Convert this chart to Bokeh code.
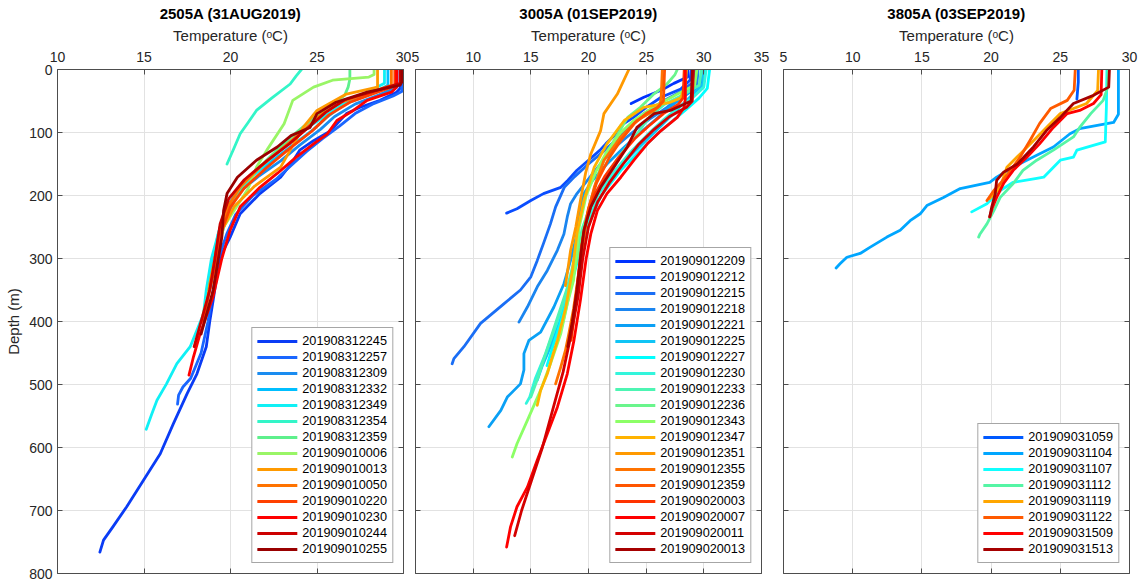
from bokeh.plotting import figure
from bokeh.models import Range1d, LinearAxis, FixedTicker, Legend, LegendItem
from bokeh.layouts import row
from bokeh.embed import file_html
from bokeh.resources import INLINE

# ---------------- data ----------------
# Panel 1: 2505A (31AUG2019)
P1_TITLE = "2505A (31AUG2019)"
P1_XTICKS = [10, 15, 20, 25, 30]
P1_LABELS = ["201908312245", "201908312257", "201908312309", "201908312332", "201908312349",
             "201908312354", "201908312359", "201909010006", "201909010013", "201909010050",
             "201909010220", "201909010230", "201909010244", "201909010255"]
P1_COLORS = ["#0a3cf5", "#1a66ff", "#1a8cf0", "#00bfff", "#10f0f5", "#33f5c8", "#5ef08c",
             "#99f566", "#ff9a00", "#ff7300", "#ff4000", "#ff0000", "#cc0000", "#990000"]
P1_DEPTH = [
    [0, 30, 36, 49, 60, 70, 97, 113, 128, 150, 171, 197, 229, 266, 298, 330, 366, 400, 440, 483, 514, 562, 610, 652, 694, 726, 747, 766],
    [0, 35, 42, 55, 70, 90, 110, 130, 150, 175, 200, 230, 260, 300, 350, 400, 450, 490, 504, 517, 531],
    [0, 28, 40, 55, 75, 95, 120, 145, 170, 195, 225, 260, 300],
    [0, 25, 38, 55, 75, 95, 120, 145, 170, 195, 225, 260, 300, 350],
    [0, 22, 35, 55, 75, 97, 120, 150, 180, 210, 250, 300, 350, 388, 440, 467, 499, 525, 546, 571],
    [0, 10, 23, 45, 65, 85, 102, 125, 150],
    [0, 15, 28, 41, 55, 75, 100, 130, 160, 190, 220, 260, 300, 330],
    [0, 8, 12, 17, 28, 49, 86, 128, 155, 190, 250, 300, 350, 390],
    [0, 28, 39, 65, 92, 128, 155, 185, 218, 261, 300, 340, 380],
    [0, 25, 37, 52, 70, 95, 125, 155, 185, 215, 250, 300],
    [0, 26, 38, 52, 72, 98, 128, 158, 188, 218, 255, 300, 350, 400],
    [0, 28, 36, 49, 65, 81, 102, 118, 139, 165, 187, 218, 255, 300, 360, 419, 456, 485],
    [0, 22, 32, 48, 68, 92, 118, 145, 175, 205, 245, 300, 350, 400, 440],
    [0, 20, 25, 36, 52, 70, 92, 105, 123, 144, 171, 197, 224, 266, 300, 350, 400, 420],
]
P1_TEMP = [
    [29.8, 29.8, 29.6, 28.65, 27.5, 26.7, 25.8, 24.8, 24.0, 23.5, 22.9, 21.7, 20.56, 19.98, 19.4, 19.2, 19.0, 18.8, 18.6, 18.06, 17.5, 16.7, 15.94, 14.97, 14.0, 13.2, 12.66, 12.45],
    [29.9, 29.9, 29.4, 28.2, 27.2, 26.3, 25.3, 24.4, 23.6, 22.6, 21.3, 20.3, 19.8, 19.3, 19.0, 18.7, 18.3, 17.7, 17.25, 17.0, 16.94],
    [29.6, 29.6, 28.6, 27.2, 26.0, 25.2, 24.0, 22.9, 21.6, 20.5, 19.9, 19.5, 19.2],
    [29.1, 29.1, 28.2, 26.6, 25.6, 24.8, 23.6, 22.4, 21.2, 20.3, 19.7, 19.3, 19.0, 18.7],
    [28.9, 28.9, 28.0, 26.5, 25.4, 24.2, 23.2, 22.0, 20.9, 20.1, 19.4, 18.9, 18.6, 18.44, 17.67, 16.9, 16.3, 15.75, 15.46, 15.13],
    [24.1, 23.8, 23.45, 22.4, 21.5, 21.0, 20.56, 20.2, 19.8],
    [26.9, 26.9, 26.8, 26.6, 25.9, 24.9, 23.8, 22.6, 21.5, 20.5, 19.9, 19.4, 19.1, 18.9],
    [28.3, 28.3, 28.0, 25.9, 24.8, 23.6, 23.1, 22.1, 21.5, 21.0, 19.6, 19.2, 18.8, 18.4],
    [28.5, 28.5, 26.7, 25.0, 24.2, 23.45, 22.9, 21.4, 20.2, 19.4, 19.1, 18.8, 18.6],
    [29.3, 29.3, 28.0, 26.4, 25.3, 24.3, 23.0, 21.7, 20.6, 19.9, 19.4, 19.1],
    [29.5, 29.5, 28.3, 26.9, 25.7, 24.7, 23.3, 22.0, 20.8, 20.0, 19.5, 19.2, 18.8, 18.4],
    [29.6, 29.6, 29.3, 27.9, 27.1, 26.15, 25.6, 24.8, 23.8, 22.7, 21.7, 20.56, 19.98, 19.5, 19.0, 18.25, 17.86, 17.6],
    [29.8, 29.8, 28.6, 26.6, 25.5, 24.5, 23.4, 22.1, 20.8, 19.9, 19.4, 19.1, 18.8, 18.3, 17.9],
    [29.9, 29.9, 29.8, 27.9, 26.1, 25.0, 24.6, 23.5, 22.7, 21.5, 20.4, 19.8, 19.6, 19.5, 19.3, 19.0, 18.5, 18.3],
]

# Panel 2: 3005A (01SEP2019)
P2_TITLE = "3005A (01SEP2019)"
P2_XTICKS = [5, 10, 15, 20, 25, 30, 35]
P2_LABELS = ["201909012209", "201909012212", "201909012215", "201909012218", "201909012221",
             "201909012225", "201909012227", "201909012230", "201909012233", "201909012236",
             "201909012343", "201909012347", "201909012351", "201909012355", "201909012359",
             "201909020003", "201909020007", "201909020011", "201909020013"]
P2_COLORS = ["#0033ff", "#0a4dff", "#1a6ef5", "#1a85f0", "#0aa0f5", "#10c4f5", "#00ffff",
             "#33f5dc", "#4df5b3", "#6af58c", "#8cff66", "#ffb300", "#ff9900", "#ff7300",
             "#ff5500", "#ff3300", "#ff0000", "#d40000", "#a60000"]
P2_DEPTH = [
    [0, 12, 22, 33, 44, 54],
    [0, 17, 31, 44, 60, 76, 89, 102, 118, 128, 144, 160, 176, 187, 197, 208, 221, 228],
    [0, 20, 35, 50, 70, 90, 110, 130, 150, 170, 187, 218, 245, 276, 303, 329, 350, 372, 403, 440, 459, 467],
    [0, 25, 40, 60, 80, 100, 120, 144, 176, 197, 213, 234, 261, 287, 319, 345, 377, 401],
    [0, 25, 40, 60, 80, 100, 125, 150, 175, 197, 224, 261, 303, 340, 377, 417, 430, 451, 477, 499, 520, 541, 567],
    [0, 25, 40, 60, 80, 100, 130, 160, 200, 250, 300, 350, 400, 440, 470, 493],
    [0, 30, 45, 60, 80, 100, 130, 160, 200, 250, 300, 350, 400, 440, 470],
    [0, 28, 45, 60, 80, 100, 130, 160, 200, 250, 300, 350, 400, 450, 490, 520, 530],
    [0, 25, 40, 55, 75, 100, 130, 160, 200, 250, 300, 350, 400, 450, 490, 520],
    [0, 8, 23, 40, 60, 76, 113, 155, 208, 260, 310, 360, 400, 420],
    [0, 25, 40, 60, 80, 100, 130, 160, 200, 250, 300, 335, 372, 419, 467, 509, 557, 594, 615],
    [0, 25, 45, 52, 60, 81, 118, 155, 208, 260, 320, 380, 430, 456, 483, 509, 533],
    [0, 39, 70, 97, 134, 165, 208, 250, 287, 343],
    [0, 44, 57, 65, 81, 107, 144, 187, 230, 280, 330, 380, 419, 446, 472, 499],
    [0, 50, 60, 70, 85, 110, 140, 180, 220, 270, 320, 370, 430],
    [0, 45, 55, 70, 90, 110, 140, 170, 200, 240, 280, 330, 380, 430],
    [0, 45, 60, 76, 97, 118, 144, 171, 197, 224, 261, 300, 366, 430, 483, 536, 578, 620, 663, 694, 726, 758],
    [0, 50, 60, 75, 95, 120, 150, 180, 210, 250, 300, 360, 420, 480, 540, 600, 650, 700, 740],
    [0, 50, 65, 70, 92, 123, 155, 187, 218, 255, 300, 350, 400, 440],
]
P2_TEMP = [
    [28.6, 28.6, 27.4, 26.3, 24.8, 23.7],
    [28.9, 28.8, 28.0, 26.3, 25.0, 23.9, 22.8, 22.4, 21.5, 21.0, 20.0, 19.0, 18.2, 17.6, 16.1, 15.0, 13.8, 12.9],
    [29.2, 29.1, 28.0, 26.5, 24.8, 23.6, 22.5, 21.3, 20.0, 18.8, 17.9, 17.15, 16.7, 16.1, 15.56, 15.0, 14.1, 12.66, 10.64, 9.2, 8.33, 8.18],
    [29.5, 29.4, 28.2, 26.8, 25.2, 23.8, 22.5, 21.3, 19.9, 19.0, 18.45, 18.16, 17.87, 17.3, 16.43, 15.56, 14.7, 13.97],
    [29.8, 29.7, 28.5, 27.0, 25.8, 24.5, 23.0, 21.6, 20.4, 19.6, 19.3, 19.0, 18.45, 17.87, 17.0, 15.85, 14.83, 14.4, 14.4, 14.1, 12.96, 12.4, 11.36],
    [30.0, 29.9, 29.0, 27.9, 26.8, 25.7, 24.0, 22.4, 20.7, 19.7, 19.0, 18.3, 17.5, 16.7, 16.0, 15.56],
    [30.5, 30.3, 29.6, 28.7, 27.4, 26.1, 24.4, 22.8, 21.1, 19.9, 19.1, 18.4, 17.6, 16.9, 16.4],
    [30.2, 30.0, 29.0, 27.8, 26.5, 25.3, 23.7, 22.3, 20.8, 19.8, 19.0, 18.2, 17.3, 16.3, 15.4, 14.9, 14.6],
    [29.8, 29.6, 28.2, 26.6, 25.3, 24.3, 23.0, 21.8, 20.5, 19.5, 18.8, 18.1, 17.2, 16.3, 15.6, 15.0],
    [27.7, 27.5, 26.8, 25.6, 24.5, 23.4, 22.2, 21.05, 20.2, 19.5, 18.9, 18.3, 17.8, 17.5],
    [29.4, 29.2, 27.6, 25.6, 24.0, 22.8, 21.6, 20.7, 19.8, 19.2, 18.9, 18.7, 18.16, 17.6, 16.7, 15.85, 14.7, 13.8, 13.39],
    [28.5, 28.4, 28.0, 27.1, 24.8, 23.1, 21.6, 20.5, 19.6, 19.0, 18.6, 18.0, 17.3, 16.86, 16.43, 15.85, 15.56],
    [23.5, 22.5, 21.34, 21.05, 20.2, 19.74, 19.3, 18.9, 18.45, 18.0],
    [26.4, 26.3, 26.2, 25.7, 24.2, 22.8, 21.34, 20.5, 19.9, 19.5, 19.1, 18.7, 18.3, 18.0, 17.6, 17.15],
    [26.6, 26.5, 26.0, 25.0, 24.0, 22.9, 21.8, 20.7, 20.0, 19.5, 19.2, 18.9, 18.5],
    [28.3, 28.2, 27.8, 26.5, 25.2, 24.0, 22.6, 21.4, 20.5, 19.8, 19.4, 19.1, 18.8, 18.4],
    [28.4, 28.4, 28.3, 27.7, 26.3, 25.1, 23.94, 22.8, 21.6, 20.77, 20.2, 19.8, 19.3, 18.74, 18.16, 17.3, 16.43, 15.56, 14.7, 13.8, 13.24, 12.9],
    [29.1, 29.0, 28.5, 27.0, 25.7, 24.3, 23.0, 21.8, 20.8, 20.0, 19.5, 19.1, 18.5, 17.8, 16.9, 16.0, 15.1, 14.2, 13.6],
    [29.0, 28.9, 27.1, 25.7, 24.2, 23.36, 22.2, 21.05, 20.2, 19.6, 19.3, 19.0, 18.6, 18.2],
]

# Panel 3: 3805A (03SEP2019)
P3_TITLE = "3805A (03SEP2019)"
P3_XTICKS = [5, 10, 15, 20, 25, 30]
P3_LABELS = ["201909031059", "201909031104", "201909031107", "201909031112",
             "201909031119", "201909031122", "201909031509", "201909031513"]
P3_COLORS = ["#0059ff", "#00a6ff", "#10ffff", "#55f5a5", "#ffa600", "#ff5a00", "#ff0000", "#a60000"]
P3_DEPTH = [
    [0, 20, 47],
    [0, 40, 71, 84, 94, 102, 123, 136, 155, 171, 179, 189, 203, 216, 229, 240, 255, 266, 282, 292, 298, 308, 315],
    [0, 60, 115, 128, 139, 144, 171, 173, 179, 192, 213, 226],
    [0, 30, 49, 70, 92, 107, 128, 144, 160, 181, 203, 224, 245, 261, 266],
    [0, 33, 54, 70, 92, 113, 134, 155, 187, 205],
    [0, 33, 49, 62, 86, 113, 139, 160, 181, 192, 208],
    [0, 40, 54, 65, 70, 92, 118, 139, 160, 181, 203, 219, 234],
    [0, 28, 41, 54, 76, 97, 123, 150, 163, 176, 197, 218, 234],
]
P3_TEMP = [
    [26.3, 26.3, 26.2],
    [29.2, 29.2, 29.2, 28.85, 26.4, 25.7, 24.5, 23.3, 21.6, 20.4, 19.9, 17.77, 16.56, 15.36, 14.88, 14.15, 13.43, 12.47, 11.27, 10.54, 9.58, 9.1, 8.8],
    [28.37, 28.33, 28.25, 26.2, 25.95, 25.0, 23.8, 23.3, 21.6, 20.66, 19.7, 18.6],
    [28.45, 28.4, 28.1, 27.2, 26.4, 25.95, 24.5, 23.3, 22.3, 21.6, 20.66, 20.2, 19.7, 19.2, 19.1],
    [27.76, 27.7, 26.9, 25.0, 24.0, 23.06, 22.1, 21.14, 20.66, 19.9],
    [26.08, 26.0, 25.5, 24.3, 23.5, 22.8, 22.1, 21.4, 20.66, 20.2, 19.7],
    [28.0, 27.95, 27.4, 26.4, 25.5, 24.5, 23.5, 22.6, 21.6, 20.9, 20.4, 20.1, 19.9],
    [28.55, 28.5, 27.4, 25.95, 25.0, 24.0, 23.06, 21.9, 20.9, 20.4, 20.3, 20.05, 19.9],
]

# ---------------- styling ----------------
FONT = "Liberation Sans"
TXT = "#262626"
AXC = "#4d4d4d"
GRID = "#e2e2e2"
LW = 2.8
FIG_H = 582


def blank_axis(ticks):
    ax = LinearAxis(ticker=FixedTicker(ticks=ticks))
    ax.major_label_overrides = {t: "" for t in ticks}
    ax.major_label_text_font_size = "0px"
    ax.major_label_standoff = 0
    ax.major_tick_in = 5
    ax.major_tick_out = 0
    ax.minor_tick_in = 0
    ax.minor_tick_out = 0
    ax.axis_line_color = AXC
    ax.major_tick_line_color = AXC
    return ax


def make_panel(title, xr, xticks, labels, colors, depths, temps, first, width, bl, br):
    p = figure(width=width, height=FIG_H, x_range=Range1d(*xr), y_range=Range1d(800, 0),
               output_backend="svg", toolbar_location=None,
               x_axis_location="above", y_axis_location="left",
               min_border_left=bl, min_border_right=br, min_border_top=69,
               min_border_bottom=FIG_H - 69 - 504)
    p.title.text = title
    p.title.align = "center"
    p.title.text_font = FONT
    p.title.text_font_size = "15px"
    p.title.text_font_style = "bold"
    p.title.text_color = "#000000"
    p.title.standoff = 4
    p.background_fill_color = "white"
    p.border_fill_color = "white"
    p.outline_line_color = None

    yticks = list(range(0, 801, 100))
    top = p.xaxis[0]
    top.ticker = FixedTicker(ticks=xticks)
    top.axis_label = "Temperature (\u1d52C)"
    top.axis_label_text_font = FONT
    top.axis_label_text_font_size = "15px"
    top.axis_label_text_font_style = "normal"
    top.axis_label_text_color = TXT
    top.axis_label_standoff = 5
    top.major_label_text_font = FONT
    top.major_label_text_font_size = "14px"
    top.major_label_text_color = TXT
    top.major_label_standoff = 8
    top.major_tick_in = 5
    top.major_tick_out = 0
    top.minor_tick_in = 0
    top.minor_tick_out = 0
    top.axis_line_color = AXC
    top.major_tick_line_color = AXC

    left = p.yaxis[0]
    left.ticker = FixedTicker(ticks=yticks)
    left.major_tick_in = 5
    left.major_tick_out = 0
    left.minor_tick_in = 0
    left.minor_tick_out = 0
    left.axis_line_color = AXC
    left.major_tick_line_color = AXC
    if first:
        left.axis_label = "Depth (m)"
        left.axis_label_text_font = FONT
        left.axis_label_text_font_size = "15px"
        left.axis_label_text_font_style = "normal"
        left.axis_label_text_color = TXT
        left.axis_label_standoff = 4
        left.major_label_text_font = FONT
        left.major_label_text_font_size = "14px"
        left.major_label_text_color = TXT
        left.major_label_standoff = 5
    else:
        left.major_label_overrides = {t: "" for t in yticks}
        left.major_label_text_font_size = "0px"
        left.major_label_standoff = 0

    p.add_layout(blank_axis(xticks), "below")
    p.add_layout(blank_axis(yticks), "right")

    p.xgrid.ticker = FixedTicker(ticks=xticks)
    p.ygrid.ticker = FixedTicker(ticks=yticks)
    p.xgrid.grid_line_color = GRID
    p.ygrid.grid_line_color = GRID

    items = []
    for lab, col, d, t in zip(labels, colors, depths, temps):
        r = p.line(t, d, line_color=col, line_width=LW, line_join="round", line_cap="round")
        items.append(LegendItem(label=lab, renderers=[r]))
    leg = Legend(items=items, location="bottom_right")
    leg.label_text_font = FONT
    leg.label_text_font_size = "12.7px"
    leg.label_text_color = "#000000"
    leg.glyph_width = 40
    leg.glyph_height = 16
    leg.label_height = 16
    leg.label_standoff = 5
    leg.spacing = 0
    leg.padding = 5
    leg.margin = 10
    leg.border_line_color = AXC
    leg.border_line_width = 1
    leg.background_fill_color = "white"
    leg.background_fill_alpha = 1
    p.add_layout(leg)
    return p


p1 = make_panel(P1_TITLE, (10, 30), P1_XTICKS, P1_LABELS, P1_COLORS, P1_DEPTH, P1_TEMP, True, 411, 57, 8)
p2 = make_panel(P2_TITLE, (5, 35), P2_XTICKS, P2_LABELS, P2_COLORS, P2_DEPTH, P2_TEMP, False, 361, 4, 11)
p3 = make_panel(P3_TITLE, (5, 30), P3_XTICKS, P3_LABELS, P3_COLORS, P3_DEPTH, P3_TEMP, False, 367, 11, 10)

layout = row(p1, p2, p3, spacing=0)
open("out.html", "w").write(file_html(layout, INLINE))
